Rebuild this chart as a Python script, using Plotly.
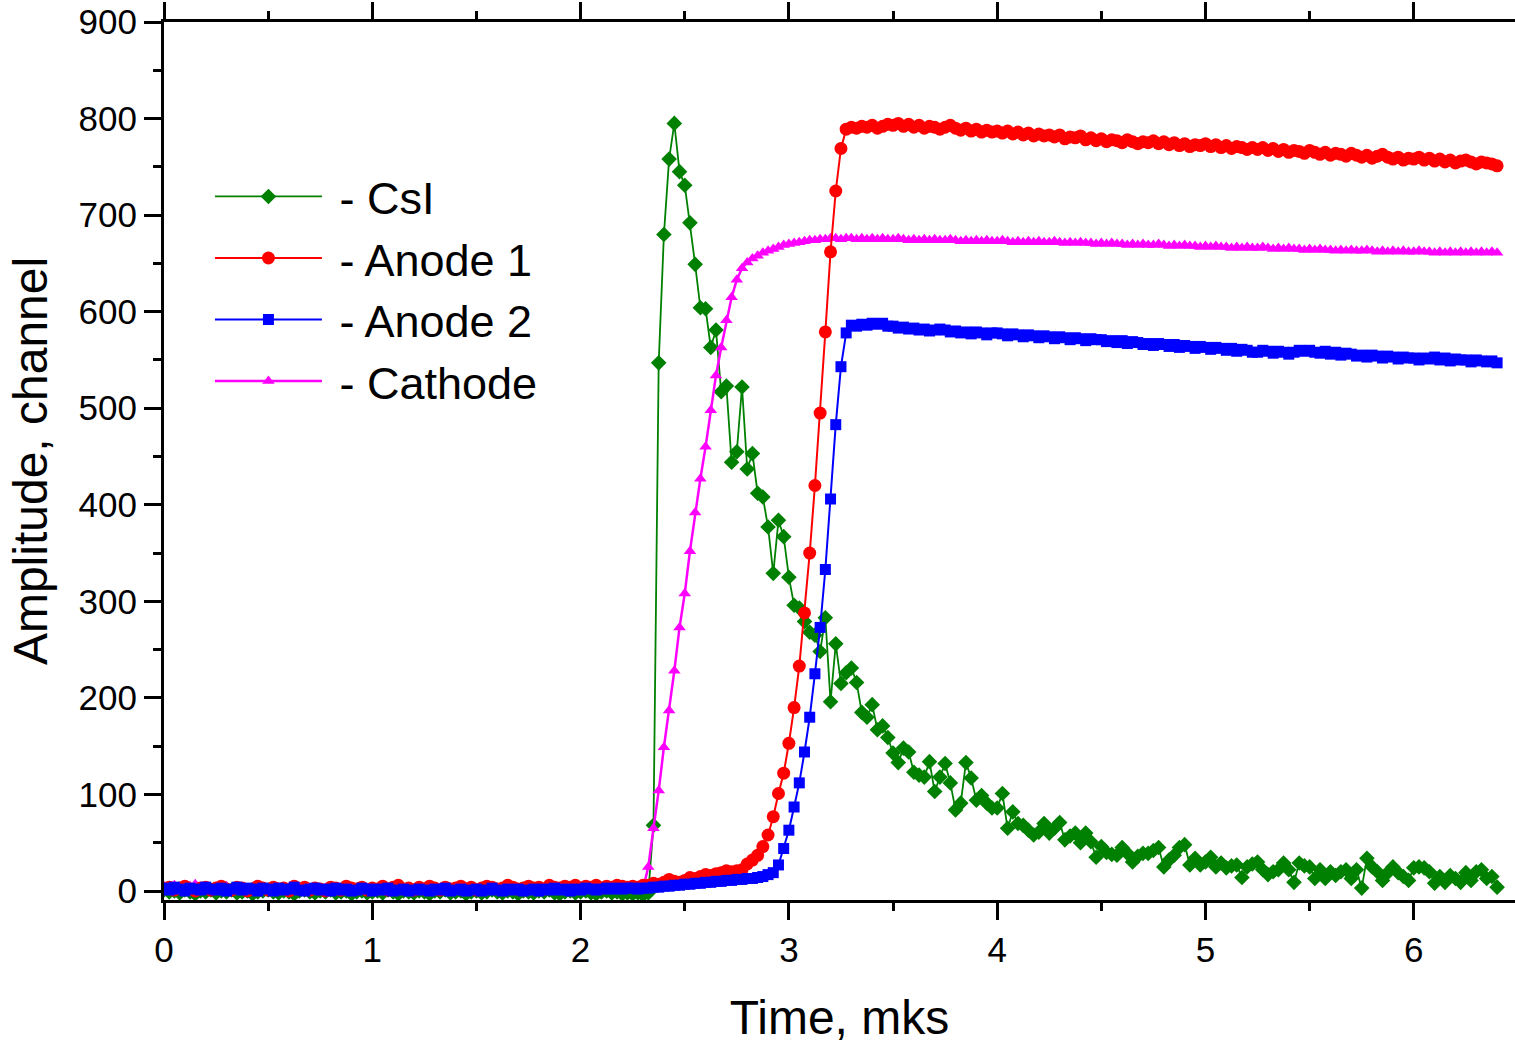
import numpy as np
import plotly.graph_objects as go

# sampling grid: 257 samples, 0.025 mks step
time_mks = np.round(np.arange(257) * 0.025, 3)

csi = [
    1, -1, 0, -2, 1, -1, -3, 0, -1, 1,
    -2, 0, -1, 1, -2, -1, 0, -3, -1, 0,
    1, -1, -2, 0, -1, -3, 0, 1, -1, -2,
    0, -1, 1, -2, -1, 0, -3, -1, 0, -2,
    -1, 0, -2, 1, -1, -3, 0, -1, -2, 0,
    -1, -3, 0, -1, 1, -2, -1, 0, -3, -1,
    0, -2, -1, 1, -1, -2, 0, -1, -3, 0,
    -1, -2, 0, -1, 1, -2, -3, -1, 0, -2,
    -1, 0, -2, -3, -1, 0, -2, -1, -3, -2,
    -3, -2, -4, -2, 68, 547, 680, 758, 795, 745,
    731, 692, 649, 604, 603, 563, 581, 517, 523, 444,
    455, 522, 437, 453, 412, 408, 377, 329, 384, 367,
    325, 296, 293, 279, 268, 265, 248, 283, 196, 256,
    215, 226, 231, 216, 185, 180, 193, 167, 171, 159,
    143, 133, 148, 144, 123, 120, 118, 134, 103, 118,
    132, 112, 84, 91, 133, 117, 94, 99, 91, 86,
    86, 101, 65, 82, 70, 68, 63, 58, 61, 70,
    60, 65, 71, 53, 57, 60, 50, 60, 51, 35,
    46, 40, 38, 37, 45, 39, 30, 36, 39, 39,
    42, 45, 25, 32, 37, 45, 48, 27, 34, 27,
    30, 35, 25, 29, 24, 26, 27, 14, 25, 28,
    30, 22, 17, 20, 22, 29, 22, 9, 29, 26,
    25, 13, 22, 13, 20, 16, 20, 22, 13, 22,
    3, 34, 25, 20, 11, 19, 25, 19, 15, 11,
    24, 25, 24, 20, 8, 15, 9, 16, 13, 9,
    19, 11, 20, 22, 13, 15, 4,
]

anode1 = [
    2, 4, 1, 3, 5, 2, 0, 3, 4, 1,
    3, 5, 2, 1, 4, 3, 0, 2, 5, 3,
    1, 4, 2, 3, 0, 5, 2, 4, 1, 3,
    2, 0, 4, 3, 1, 5, 3, 2, 4, 1,
    3, 2, 5, 1, 4, 6, 2, 3, 1, 4,
    2, 5, 3, 1, 4, 2, 3, 5, 2, 4,
    1, 3, 5, 4, 2, 3, 6, 4, 2, 3,
    5, 3, 4, 2, 6, 4, 3, 5, 4, 6,
    3, 5, 4, 6, 3, 5, 4, 6, 5, 4,
    5, 4, 6, 6, 8, 7, 9, 12, 10, 9,
    11, 14, 13, 15, 17, 16, 18, 19, 21, 20,
    21, 22, 28, 32, 37, 46, 58, 77, 101, 122,
    153, 190, 233, 288, 350, 420, 495, 579, 662, 725,
    769, 789, 791, 790, 792, 791, 793, 790, 792, 794,
    793, 795, 792, 794, 791, 793, 790, 792, 791, 789,
    791, 793, 790, 788, 790, 787, 789, 786, 788, 786,
    787, 785, 787, 784, 786, 783, 785, 782, 784, 782,
    783, 781, 783, 779, 781, 780, 782, 778, 780, 777,
    779, 776, 778, 777, 775, 778, 776, 774, 776, 775,
    777, 774, 776, 773, 775, 772, 774, 771, 773, 772,
    774, 771, 773, 770, 772, 769, 771, 770, 768, 770,
    768, 770, 767, 769, 766, 768, 765, 767, 766, 764,
    767, 765, 763, 765, 762, 764, 763, 761, 764, 762,
    760, 762, 759, 761, 763, 760, 758, 760, 757, 759,
    758, 760, 757, 759, 756, 758, 755, 757, 754, 756,
    757, 755, 753, 755, 754, 753, 751,
]

anode2 = [
    3, 1, 4, 2, 0, 3, 2, 1, 4, 2,
    1, 3, 0, 2, 4, 1, 3, 2, 0, 3,
    2, 0, 3, 1, 2, 4, 1, 0, 2, 3,
    1, 2, 0, 3, 1, 2, 0, 1, 3, 2,
    0, 2, 1, 3, 0, 1, 2, 0, 1, 2,
    1, 0, 2, 1, 3, 0, 1, 2, 0, 1,
    2, 0, 1, 3, 1, 0, 2, 1, 2, 0,
    1, 2, 0, 2, 1, 3, 1, 2, 0, 2,
    1, 3, 2, 1, 2, 3, 2, 3, 2, 3,
    3, 2, 3, 3, 4, 4, 5, 5, 6, 6,
    7, 7, 8, 8, 9, 9, 10, 10, 11, 11,
    12, 12, 13, 13, 14, 15, 17, 19, 27, 44,
    63, 87, 112, 144, 180, 225, 273, 333, 406, 483,
    543, 578, 586, 585, 587, 586, 588, 587, 588, 585,
    585, 583, 584, 582, 583, 581, 582, 580, 581, 582,
    581, 579, 580, 578, 579, 577, 579, 578, 576, 578,
    578, 577, 575, 577, 576, 574, 576, 575, 573, 575,
    574, 572, 574, 573, 571, 573, 572, 570, 572, 571,
    571, 569, 570, 568, 570, 567, 569, 568, 566, 567,
    565, 567, 566, 564, 566, 563, 565, 564, 562, 564,
    563, 561, 563, 562, 560, 562, 559, 561, 560, 558,
    558, 560, 559, 557, 559, 558, 556, 558, 560, 559,
    560, 558, 557, 559, 556, 558, 555, 557, 556, 554,
    555, 553, 555, 554, 552, 554, 553, 551, 553, 552,
    552, 550, 552, 551, 553, 550, 552, 549, 551, 550,
    550, 548, 550, 549, 548, 549, 547,
]

cathode = [
    5, 3, 6, 4, 2, 5, 7, 3, 4, 2,
    4, 3, 5, 2, 4, 3, 1, 4, 2, 3,
    2, 4, 1, 3, 2, 0, 3, 1, 2, 4,
    1, 3, 0, 2, 1, 3, 2, 0, 1, 2,
    0, 1, 2, 0, 1, -1, 1, 0, 2, 0,
    1, -1, 0, 1, 2, 0, -1, 1, 0, 2,
    0, 1, -1, 0, 2, 1, 0, -1, 1, 0,
    1, 0, 2, 1, 0, 1, -1, 0, 1, 2,
    0, 1, 2, 0, 1, 2, 1, 0, 2, 1,
    2, 1, 2, 25, 65, 104, 149, 187, 228, 273,
    308, 352, 392, 427, 460, 498, 534, 563, 591, 615,
    633, 645, 651, 655, 658, 661, 663, 665, 667, 669,
    670, 671, 672, 673, 674, 674, 675, 675, 676, 676,
    675, 676, 676, 675, 676, 675, 676, 675, 676, 675,
    675, 676, 675, 674, 675, 674, 675, 674, 675, 674,
    674, 675, 674, 673, 674, 673, 674, 673, 674, 673,
    673, 674, 673, 672, 673, 672, 673, 672, 673, 672,
    672, 673, 672, 671, 672, 671, 672, 671, 671, 670,
    671, 670, 671, 670, 670, 669, 670, 669, 670, 669,
    669, 670, 669, 668, 669, 668, 669, 668, 668, 667,
    668, 667, 668, 667, 667, 666, 667, 666, 667, 666,
    666, 667, 666, 665, 666, 665, 666, 665, 665, 664,
    665, 664, 665, 664, 664, 663, 664, 663, 664, 663,
    663, 664, 663, 662, 663, 662, 663, 662, 663, 662,
    662, 663, 662, 662, 661, 662, 661, 662, 661, 662,
    661, 662, 661, 662, 661, 662, 661,
]

x_ticks = [0, 1, 2, 3, 4, 5, 6]
y_ticks = [0, 100, 200, 300, 400, 500, 600, 700, 800, 900]

FONT = "Liberation Sans, Arial, sans-serif"
NB = "\u00a0"

fig = go.Figure()
fig.add_trace(go.Scatter(x=time_mks, y=csi, name=NB + "- CsI", mode="lines+markers",
                         line=dict(color="#008000", width=1.8),
                         marker=dict(symbol="diamond", size=12, color="#008000"),
                         legendrank=1))
fig.add_trace(go.Scatter(x=time_mks, y=cathode, name=NB + "- Cathode", mode="lines+markers",
                         line=dict(color="#FF00FF", width=2.5),
                         marker=dict(symbol="triangle-up", size=11, color="#FF00FF"),
                         legendrank=4))
fig.add_trace(go.Scatter(x=time_mks, y=anode1, name=NB + "- Anode 1", mode="lines+markers",
                         line=dict(color="#FF0000", width=2),
                         marker=dict(symbol="circle", size=13, color="#FF0000"),
                         legendrank=2))
fig.add_trace(go.Scatter(x=time_mks, y=anode2, name=NB + "- Anode 2", mode="lines+markers",
                         line=dict(color="#0000FF", width=2),
                         marker=dict(symbol="square", size=11, color="#0000FF"),
                         legendrank=3))

axis_common = dict(
    showline=True, linecolor="black", linewidth=3,
    ticks="outside", ticklen=17, tickwidth=3, tickcolor="black",
    showgrid=False, zeroline=False,
    tickfont=dict(family=FONT, size=35, color="black"),
    minor=dict(ticks="outside", ticklen=8, tickwidth=3, tickcolor="black", showgrid=False),
)

fig.update_xaxes(
    range=[0, 6.486], tickvals=x_ticks, ticktext=[str(v) for v in x_ticks],
    mirror="ticks",
    title=dict(text="Time, mks", font=dict(family=FONT, size=48, color="black"), standoff=38),
    **axis_common,
)
fig.update_xaxes(minor=dict(dtick=0.5, tick0=0))
fig.update_yaxes(
    range=[-9.3, 900], tickvals=y_ticks, ticktext=[str(v) for v in y_ticks],
    title=dict(text="Amplitude, channel", font=dict(family=FONT, size=48, color="black"), standoff=16),
    **axis_common,
)
fig.update_yaxes(minor=dict(dtick=50, tick0=0))

fig.update_layout(
    width=1515, height=1044,
    margin=dict(l=164, r=0, t=22, b=144),
    paper_bgcolor="white", plot_bgcolor="white",
    showlegend=True,
    legend=dict(x=0.034, y=0.842, xanchor="left", yanchor="top",
                bgcolor="rgba(0,0,0,0)", borderwidth=0,
                font=dict(family=FONT, size=45, color="black"),
                itemwidth=107, tracegroupgap=0),
    font=dict(family=FONT, color="black"),
)

fig.write_html("out.html")
